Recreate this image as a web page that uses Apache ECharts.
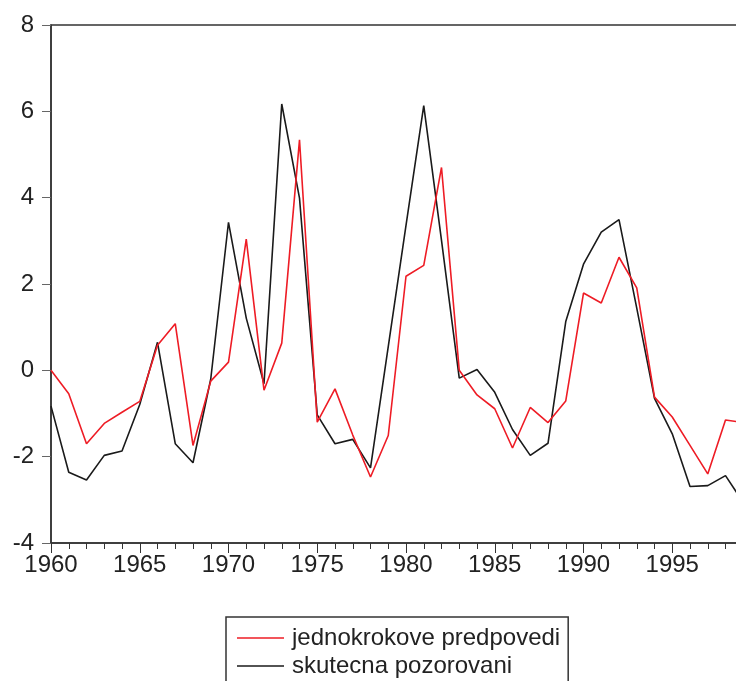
<!DOCTYPE html>
<html>
<head>
<meta charset="utf-8">
<script src="https://cdn.jsdelivr.net/npm/echarts@6/dist/echarts.min.js"></script>
<style>
  html, body { margin: 0; padding: 0; background: #fff; }
  #chart { width: 736px; height: 681px; }
</style>
</head>
<body>
<div id="chart"></div>
<script>
// Annual observations, 1960-1999
const years = [
  1960, 1961, 1962, 1963, 1964, 1965, 1966, 1967, 1968, 1969,
  1970, 1971, 1972, 1973, 1974, 1975, 1976, 1977, 1978, 1979,
  1980, 1981, 1982, 1983, 1984, 1985, 1986, 1987, 1988, 1989,
  1990, 1991, 1992, 1993, 1994, 1995, 1996, 1997, 1998, 1999
];

// one-step-ahead forecasts
const forecast = [
   0.00, -0.54, -1.70, -1.23, -0.97, -0.72,  0.58,  1.08, -1.74, -0.25,
   0.19,  3.04, -0.46,  0.63,  5.34, -1.20, -0.43, -1.50, -2.47, -1.51,
   2.18,  2.43,  4.70,  0.00, -0.57, -0.89, -1.80, -0.86, -1.21, -0.71,
   1.79,  1.56,  2.62,  1.91, -0.62, -1.08, -1.74, -2.40, -1.15, -1.21
];

// observed values
const actual = [
  -0.83, -2.36, -2.54, -1.97, -1.87, -0.79,  0.65, -1.70, -2.14, -0.20,
   3.43,  1.21, -0.31,  6.17,  3.99, -1.03, -1.70, -1.60, -2.26,  0.55,
   3.36,  6.13,  3.01, -0.18,  0.02, -0.51, -1.37, -1.97, -1.69,  1.13,
   2.46,  3.20,  3.49,  1.44, -0.65, -1.47, -2.69, -2.67, -2.44, -3.06
];

const seriesNames = ['jednokrokove predpovedi', 'skutecna pozorovani'];
const yTicks = { min: -4, max: 8, step: 2 };
const xTicks = { min: 1960, max: 2000, step: 5 };
const lastYear = years[years.length - 1];

const pairs = vals => years.map((y, i) => [y, vals[i]]);
const FONT = '"Liberation Sans", Arial, sans-serif';
const AXIS_DARK = '#333333';
const RED = '#ee1c25';
const BLACK = '#1a1a1a';

const chart = echarts.init(document.getElementById('chart'), null, { renderer: 'canvas' });
chart.setOption({
  animation: false,
  backgroundColor: '#ffffff',
  textStyle: { fontFamily: FONT },
  grid: {
    left: 51, top: 25, width: 710, bottom: 138,
    outerBoundsMode: 'none', containLabel: false,
    show: true, borderColor: AXIS_DARK, borderWidth: 1.5, backgroundColor: 'transparent'
  },
  xAxis: {
    type: 'value',
    min: xTicks.min, max: xTicks.max, interval: xTicks.step,
    axisLine: { show: true, onZero: false, lineStyle: { color: AXIS_DARK, width: 1.5 } },
    axisTick: { show: true, inside: false, length: 10, lineStyle: { color: AXIS_DARK, width: 1 } },
    minorTick: { show: true, splitNumber: 5, length: 6, lineStyle: { color: AXIS_DARK, width: 1 } },
    splitLine: { show: false },
    axisLabel: {
      margin: 10, color: '#222', fontSize: 24, fontFamily: FONT,
      // the axis runs one year past the data; that end label stays blank
      formatter: v => (v > lastYear ? '' : String(v))
    }
  },
  yAxis: {
    type: 'value',
    min: yTicks.min, max: yTicks.max, interval: yTicks.step,
    axisLine: { show: true, onZero: false, lineStyle: { color: AXIS_DARK, width: 1.5 } },
    axisTick: { show: true, inside: false, length: 9, lineStyle: { color: '#666', width: 1 } },
    splitLine: { show: false },
    axisLabel: { margin: 17, color: '#222', fontSize: 24, fontFamily: FONT }
  },
  legend: {
    orient: 'vertical',
    left: 226, top: 617, height: 120,
    padding: [9, 8, 12, 11],
    icon: 'rect',
    itemWidth: 47, itemHeight: 1.6, itemGap: 4,
    borderColor: AXIS_DARK, borderWidth: 1.5, borderRadius: 0,
    textStyle: { fontSize: 24, color: '#222', fontFamily: FONT, padding: [0, 0, 0, 3] },
    data: seriesNames
  },
  series: [
    {
      name: seriesNames[0], type: 'line', data: pairs(forecast),
      symbol: 'none', z: 3,
      lineStyle: { color: RED, width: 1.6 }, itemStyle: { color: RED }
    },
    {
      name: seriesNames[1], type: 'line', data: pairs(actual),
      symbol: 'none', z: 2,
      lineStyle: { color: BLACK, width: 1.6 }, itemStyle: { color: BLACK }
    }
  ]
});
</script>
</body>
</html>
